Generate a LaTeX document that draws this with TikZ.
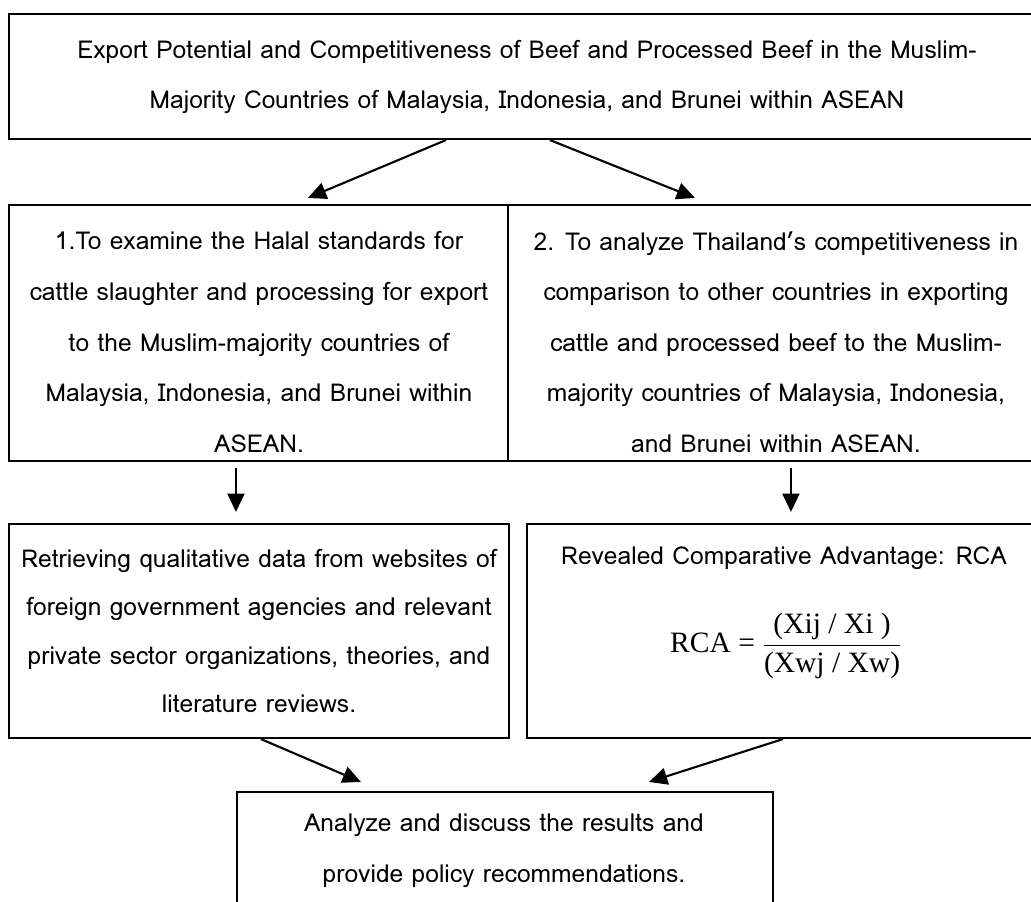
\documentclass[tikz,border=0pt]{standalone}
\usepackage{fontspec}
\setmainfont{Loma}
\newfontfamily\rcafont{Liberation Serif}
\usetikzlibrary{arrows.meta,calc,fit}
\tikzset{
  box/.style={draw=black,line width=1.5pt,inner sep=0pt},
  txt/.style={align=center,font=\fontsize{17.5}{36}\selectfont},
  arrow/.style={draw=black,line width=1.5pt,-{Triangle[length=13pt,width=12pt]}}
}
\begin{document}
\begin{tikzpicture}[x=0.025cm,y=-0.025cm]
  \useasboundingbox (0,0) rectangle (1031,901);
  \clip (0,0) rectangle (1031,901);
  % boxes
  \node[box,fit={(9,14) (1045,139)}] (topic) {};
  \node[box,fit={(9,205) (508,461)}] (objA) {};
  \node[box,fit={(508,205) (1045,461)}] (objB) {};
  \node[box,fit={(9,524) (509,738)}] (methA) {};
  \node[box,fit={(527,524) (1045,738)}] (methB) {};
  \node[box,fit={(237,792) (773,960)}] (result) {};
  % texts
  \node[txt] (topicText) at (527,77) {Export Potential and Competitiveness of Beef and Processed Beef in the Muslim-\\
    Majority Countries of Malaysia, Indonesia, and Brunei within ASEAN};
  \node[txt] (objAText) at (259,342) {1.To examine the Halal standards for\\
    cattle slaughter and processing for export\\
    to the Muslim-majority countries of\\
    Malaysia, Indonesia, and Brunei within\\
    ASEAN.};
  \node[txt] (objBText) at (776,342) {2. To analyze Thailand's competitiveness in\\
    comparison to other countries in exporting\\
    cattle and processed beef to the Muslim-\\
    majority countries of Malaysia, Indonesia,\\
    and Brunei within ASEAN.};
  \node[txt,font=\fontsize{17.5}{34.5}\selectfont] (methAText) at (259,631) {Retrieving qualitative data from websites of\\
    foreign government agencies and relevant\\
    private sector organizations, theories, and\\
    literature reviews.};
  \node[txt] (methBText) at (784,558) {Revealed Comparative Advantage: RCA};
  \node (rca) at (786,646) {\rcafont\fontsize{21}{24}\selectfont RCA = $\displaystyle\frac{\hbox{(Xij / Xi )}}{\hbox{(Xwj / Xw)}}$};
  \node[txt] (resultText) at (504,851) {Analyze and discuss the results and\\
    provide policy recommendations.};
  % arrows
  \draw[arrow] ($(topic.south west)+(438,0)$) -- ($(objA.north west)+(300,-6)$);
  \draw[arrow] ($(topic.south west)+(542,0)$) -- ($(objB.north west)+(188,-6)$);
  \draw[arrow] ($(objA.south west)+(228,6)$) -- ($(methA.north west)+(228,-11)$);
  \draw[arrow] ($(objB.south west)+(284,6)$) -- ($(methB.north west)+(265,-11)$);
  \draw[arrow] ($(methA.south west)+(253,0)$) -- ($(result.north west)+(125,-9)$);
  \draw[arrow] ($(methB.south west)+(257,0)$) -- ($(result.north west)+(413,-9)$);
\end{tikzpicture}
\end{document}
